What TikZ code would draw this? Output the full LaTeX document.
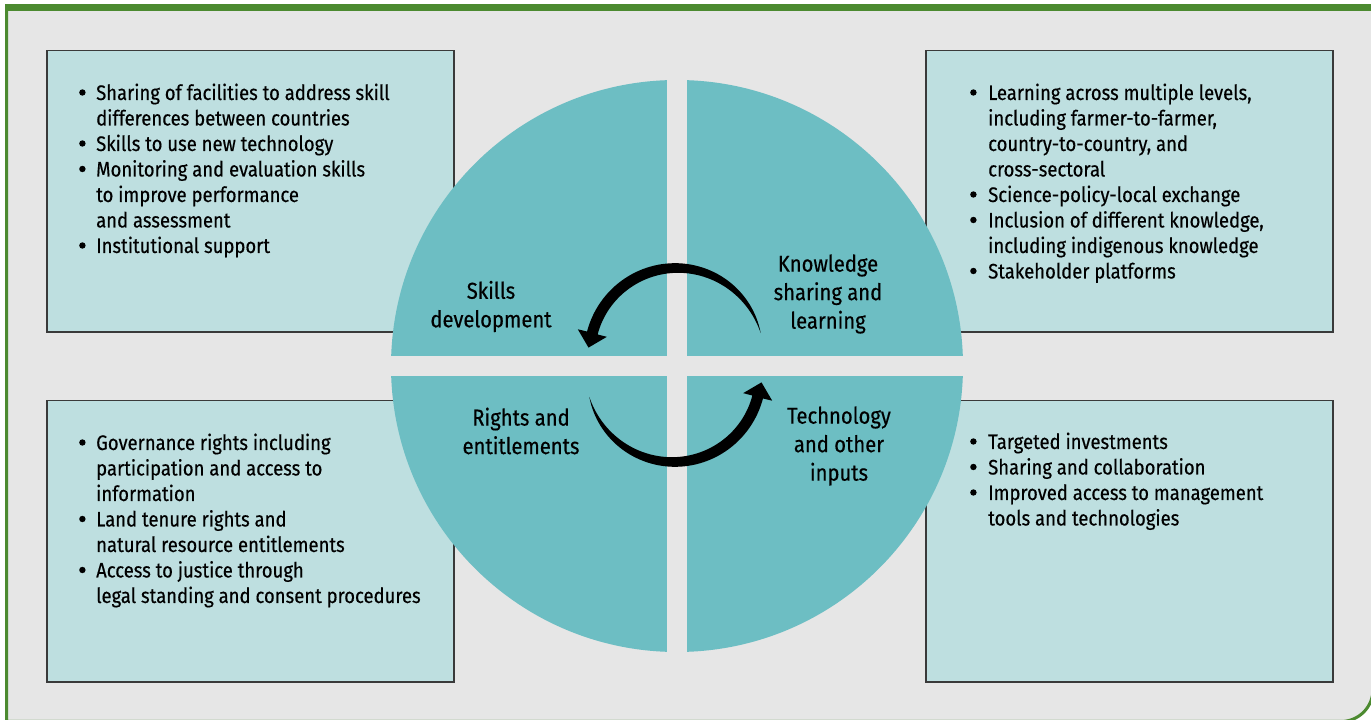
\documentclass[tikz,border=0pt]{standalone}
\usepackage{fontspec}
\setmainfont{Fira Sans}[FakeStretch=0.88,FakeBold=0.4]
\definecolor{bg}{HTML}{E6E6E6}
\definecolor{frame}{HTML}{4C8A30}
\definecolor{panel}{HTML}{BEDFE0}
\definecolor{disc}{HTML}{6DBEC3}
\definecolor{edge}{HTML}{3A3A3A}
\newcommand{\bul}{\tikz[baseline=-7.5pt]\fill (0,0) circle (3.2pt);}

\begin{document}
\begin{tikzpicture}[x=1pt,y=1pt,
  box/.style={fill=panel,draw=edge,line width=1.5pt},
  lst/.style={anchor=base west,inner sep=0pt,font=\fontsize{21}{25.5}\selectfont},
  lbl/.style={align=center,inner sep=0pt,font=\fontsize{23}{28.5}\selectfont}]
\useasboundingbox (0,0) rectangle (1371,720);
\fill[white] (0,0) rectangle (1371,720);
\filldraw[fill=bg,draw=frame,line width=3pt] (6.5,-5) -- (6.5,712.5) -- (1373,712.5) -- (1373,30.5)
  arc[start angle=0,end angle=-90,radius=32] -- (6.5,-1.5);
\draw[frame,line width=7pt] (5,712.5) -- (1371,712.5);
\foreach \x/\y in {47/388,926/388,47/38,926/38}
  \draw[box] (\x,\y) rectangle ++(407,281.5);
\coordinate (c) at (677,354);
\begin{scope}
\clip (c) circle (286);
\foreach \sx/\sy in {1/1,-1/1,1/-1,-1/-1}
  \fill[disc] ({677+10*\sx},{354+10*\sy}) rectangle ++({290*\sx},{290*\sy});
\end{scope}
\node[lbl] (skills) at (491,413.5) {Skills\\development};
\node[lbl] (knowledge) at (828,426) {Knowledge\\sharing and\\learning};
\node[lbl] (rights) at (521,289) {Rights and\\entitlements};
\node[lbl] (tech) at (839,274) {Technology\\and other\\inputs};
\begin{scope}[shift={(676.5,365)}]
\fill plot[domain=0:1,samples=60] ({(87+5.5*(1-(1-\x)^3))*cos(14.6+150.8*\x)},{(87+5.5*(1-(1-\x)^3))*sin(14.6+150.8*\x)})
  -- (165.4:102) -- (-88,7.4) -- (165.4:72)
  -- plot[domain=1:0,samples=60] ({(87-5.5*(1-(1-\x)^3))*cos(14.6+150.8*\x)},{(87-5.5*(1-(1-\x)^3))*sin(14.6+150.8*\x)}) -- cycle;
\end{scope}
\begin{scope}[shift={(673.5,345)}]
\fill plot[domain=0:1,samples=60] ({(87+5.5*(1-(1-\x)^3))*cos(194.6+150.8*\x)},{(87+5.5*(1-(1-\x)^3))*sin(194.6+150.8*\x)})
  -- (345.4:102) -- (88,-7.4) -- (345.4:72)
  -- plot[domain=1:0,samples=60] ({(87-5.5*(1-(1-\x)^3))*cos(194.6+150.8*\x)},{(87-5.5*(1-(1-\x)^3))*sin(194.6+150.8*\x)}) -- cycle;
\end{scope}
\node[lst] (tl) at (79,620) {\begin{tabular}[t]{@{}p{17pt}@{}l@{}}
\bul & Sharing of facilities to address skill\\
 & differences between countries\\
\bul & Skills to use new technology\\
\bul & Monitoring and evaluation skills\\
 & to improve performance\\
 & and assessment\\
\bul & Institutional support
\end{tabular}};
\node[lst] (tr) at (970,620) {\begin{tabular}[t]{@{}p{18pt}@{}l@{}}
\bul & Learning across multiple levels,\\
 & including farmer-to-farmer,\\
 & country-to-country, and\\
 & cross-sectoral\\
\bul & Science-policy-local exchange\\
\bul & Inclusion of different knowledge,\\
 & including indigenous knowledge\\
\bul & Stakeholder platforms
\end{tabular}};
\node[lst] (bl) at (79,270) {\begin{tabular}[t]{@{}p{17pt}@{}l@{}}
\bul & Governance rights including\\
 & participation and access to\\
 & information\\
\bul & Land tenure rights and\\
 & natural resource entitlements\\
\bul & Access to justice through\\
 & legal standing and consent procedures
\end{tabular}};
\node[lst] (br) at (970,271) {\begin{tabular}[t]{@{}p{18pt}@{}l@{}}
\bul & Targeted investments\\
\bul & Sharing and collaboration\\
\bul & Improved access to management\\
 & tools and technologies
\end{tabular}};
\end{tikzpicture}
\end{document}
